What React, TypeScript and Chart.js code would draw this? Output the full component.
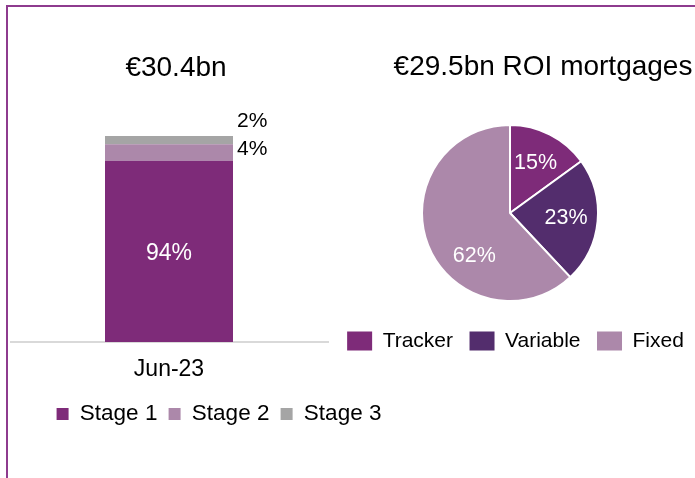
import React, { useEffect, useRef } from "react";
import { Chart, registerables } from "chart.js";

Chart.register(...registerables);

// ---- Data ----
const barCategories = ["Jun-23"];
const stageLabels = ["Stage 1", "Stage 2", "Stage 3"];
const stageValues = [94, 4, 2];
const stageColors = ["#7E2B79", "#AC88AA", "#A5A5A5"];
const barTitle = "€30.4bn";

const pieLabels = ["Tracker", "Variable", "Fixed"];
const pieValues = [15, 23, 62];
const pieColors = ["#7E2B79", "#532D6D", "#AC88AA"];
const pieTitle = "€29.5bn ROI mortgages";

const FONT = "'Liberation Sans', Arial, Helvetica, sans-serif";

// Shifts title / legend blocks horizontally after layout
const shiftPlugin = {
  id: "blockShift",
  afterLayout(chart: any, _args: any, opts: any) {
    const t = chart.titleBlock;
    if (t && opts.title) {
      t.left += opts.title;
      t.right += opts.title;
    }
    const l = chart.legend;
    if (l && opts.legend) {
      l.left += opts.legend;
      l.right += opts.legend;
    }
  },
};

const barLabelPlugin = {
  id: "barLabels",
  afterDatasetsDraw(chart: any) {
    const ctx = chart.ctx;
    const area = chart.chartArea;
    chart.data.datasets.forEach((ds: any, i: number) => {
      const meta = chart.getDatasetMeta(i);
      meta.data.forEach((el: any, j: number) => {
        const p = el.getProps(["x", "y", "base", "width"], true);
        const base = Math.min(p.base, area.bottom);
        const top = Math.max(p.y, area.top);
        const text = ds.data[j] + "%";
        ctx.save();
        ctx.textBaseline = "middle";
        if (i === 0) {
          ctx.font = `23px ${FONT}`;
          ctx.fillStyle = "#FFFFFF";
          ctx.textAlign = "center";
          ctx.fillText(text, p.x, (top + base) / 2 + 2);
        } else if (i === 1) {
          ctx.font = `21px ${FONT}`;
          ctx.fillStyle = "#000000";
          ctx.textAlign = "left";
          ctx.fillText(text, p.x + p.width / 2 + 4, (top + base) / 2 - 3);
        } else {
          ctx.font = `21px ${FONT}`;
          ctx.fillStyle = "#000000";
          ctx.textAlign = "left";
          ctx.fillText(text, p.x + p.width / 2 + 4, top - 15);
        }
        ctx.restore();
      });
    });
  },
};

const pieLabelPlugin = {
  id: "pieLabels",
  afterDatasetsDraw(chart: any, _args: any, opts: any) {
    const ctx = chart.ctx;
    const ds = chart.data.datasets[0];
    const meta = chart.getDatasetMeta(0);
    meta.data.forEach((arc: any, i: number) => {
      const p = arc.getProps(["x", "y", "startAngle", "endAngle", "outerRadius"], true);
      const shift = ((opts.angleShift && opts.angleShift[i]) || 0) * (Math.PI / 180);
      const a = (p.startAngle + p.endAngle) / 2 + shift;
      const d = p.outerRadius * 0.64;
      ctx.save();
      ctx.font = `21.5px ${FONT}`;
      ctx.fillStyle = "#FFFFFF";
      ctx.textAlign = "center";
      ctx.textBaseline = "middle";
      ctx.fillText(ds.data[i] + "%", p.x + Math.cos(a) * d, p.y + Math.sin(a) * d);
      ctx.restore();
    });
  },
};

export default function App() {
  const barRef = useRef<HTMLCanvasElement>(null);
  const pieRef = useRef<HTMLCanvasElement>(null);

  useEffect(() => {
    const bar = new Chart(barRef.current as HTMLCanvasElement, {
      type: "bar",
      data: {
        labels: barCategories,
        datasets: stageLabels.map((label, i) => ({
          label,
          data: [stageValues[i]],
          backgroundColor: stageColors[i],
          borderWidth: 0,
          barPercentage: 0.4025,
          categoryPercentage: 1,
        })),
      },
      options: {
        responsive: false,
        animation: false,
        devicePixelRatio: 1,
        layout: { padding: { top: 0, left: 0, right: 0, bottom: 42.8 } },
        scales: {
          x: {
            stacked: true,
            grid: { display: false, drawTicks: false },
            border: { display: true, color: "#D9D9D9", width: 2 },
            ticks: { font: { size: 23, family: FONT }, color: "#000000", padding: 14.2 },
            afterFit: (s: any) => {
              s.height = 49.5;
            },
          },
          y: {
            stacked: true,
            position: "right",
            min: 50,
            max: 100,
            grid: { display: false, drawTicks: false },
            border: { display: false },
            ticks: { display: false },
            afterFit: (s: any) => {
              s.width = 100;
            },
          },
        },
        plugins: {
          title: {
            display: true,
            text: barTitle,
            color: "#000000",
            font: { size: 28, family: FONT, weight: "normal" },
            padding: { top: 51, bottom: 51.4 },
          },
          legend: {
            position: "bottom",
            labels: {
              boxWidth: 12,
              boxHeight: 12,
              padding: 11.2,
              color: "#000000",
              font: { size: 22.5, family: FONT },
            },
          },
          tooltip: { enabled: false },
          blockShift: { title: -43, legend: 0 },
        } as any,
      },
      plugins: [shiftPlugin, barLabelPlugin],
    });

    const defaultGen = (Chart as any).overrides.pie.plugins.legend.labels.generateLabels;
    const pie = new Chart(pieRef.current as HTMLCanvasElement, {
      type: "pie",
      data: {
        labels: pieLabels,
        datasets: [
          {
            data: pieValues,
            backgroundColor: pieColors,
            borderColor: "#FFFFFF",
            borderWidth: 2,
            radius: 88,
          } as any,
        ],
      },
      options: {
        responsive: false,
        animation: false,
        devicePixelRatio: 1,
        layout: { padding: { top: 0, left: 0, right: 0, bottom: 116.5 } },
        plugins: {
          title: {
            display: true,
            text: pieTitle,
            color: "#000000",
            font: { size: 28, family: FONT, weight: "normal" },
            padding: { top: 50.2, bottom: 28.2 },
          },
          legend: {
            position: "bottom",
            labels: {
              boxWidth: 25,
              boxHeight: 19,
              padding: 16.5,
              color: "#000000",
              font: { size: 21, family: FONT },
              generateLabels: (chart: any) =>
                defaultGen(chart).map((it: any) => ({ ...it, lineWidth: 0 })),
            },
          },
          tooltip: { enabled: false },
          blockShift: { title: 33, legend: 5.5 },
          pieLabels: { angleShift: [0, 0, -29] },
        } as any,
      },
      plugins: [shiftPlugin, pieLabelPlugin],
    });

    return () => {
      bar.destroy();
      pie.destroy();
    };
  }, []);

  return (
    <div
      style={{
        position: "absolute",
        left: 0,
        top: 0,
        width: 695,
        height: 478,
        background: "#FFFFFF",
        overflow: "hidden",
      }}
    >
      <div
        style={{
          position: "absolute",
          left: 6,
          top: 5,
          right: 0,
          bottom: 0,
          borderTop: "2px solid #8E3B8E",
          borderLeft: "2px solid #8E3B8E",
        }}
      />
      <canvas
        ref={barRef}
        width={418}
        height={478}
        style={{ position: "absolute", left: 10, top: 0 }}
      />
      <canvas
        ref={pieRef}
        width={384}
        height={478}
        style={{ position: "absolute", left: 318, top: 0 }}
      />
    </div>
  );
}
